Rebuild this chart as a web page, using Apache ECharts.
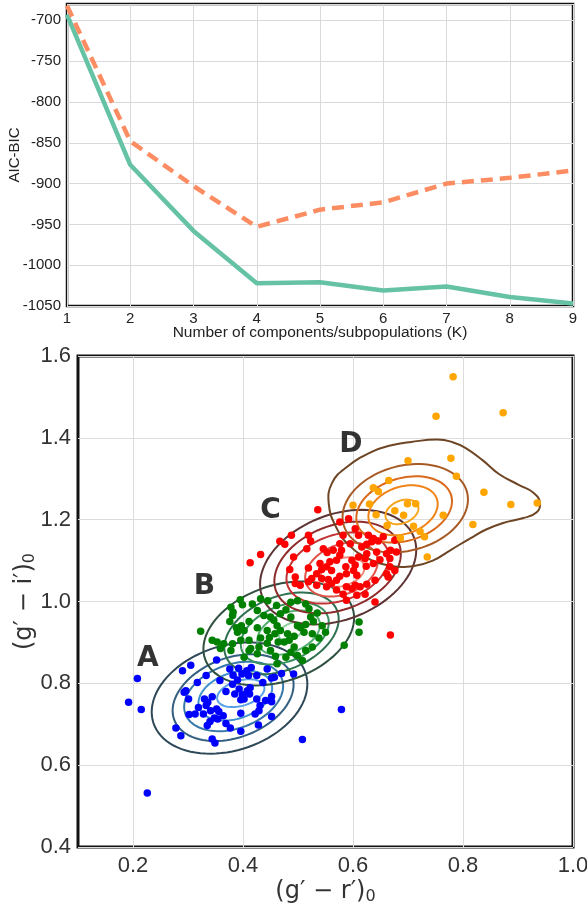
<!DOCTYPE html>
<html><head><meta charset="utf-8">
<script src="https://cdn.jsdelivr.net/npm/echarts@6/dist/echarts.min.js"></script>
<style>html,body{margin:0;padding:0;background:#fff}#c{width:587px;height:906px}</style>
</head><body><div id="c"></div>
<script>
// ---------- Top panel data ----------
const kValues = [1, 2, 3, 4, 5, 6, 7, 8, 9];
const aicValues = [-693, -877, -958, -1022, -1021, -1031, -1026, -1039, -1047];
const bicValues = [-682, -848, -903, -953, -932, -923, -900, -893, -884];
const topYTicks = [-1050, -1000, -950, -900, -850, -800, -750, -700];

// ---------- Bottom panel data: (g'-r')0, (g'-i')0 ----------
const popA = [[0.208,0.812],[0.192,0.754],[0.215,0.736],[0.508,0.663],[0.579,0.736],[0.226,0.532],
[0.305,0.844],[0.290,0.831],[0.352,0.857],[0.333,0.819],[0.317,0.802],[0.296,0.782],[0.293,0.778],[0.301,0.762],[0.330,0.762],[0.336,0.754],[0.344,0.767],[0.333,0.746],[0.319,0.741],[0.302,0.724],[0.341,0.733],[0.352,0.737],[0.356,0.731],[0.348,0.715],[0.340,0.707],[0.335,0.697],[0.354,0.713],[0.369,0.702],[0.377,0.691],[0.278,0.691],[0.287,0.672],[0.344,0.664],[0.349,0.654],[0.396,0.683],[0.428,0.698],[0.452,0.719],[0.396,0.727],[0.429,0.733],[0.452,0.768],[0.441,0.758],[0.425,0.762],[0.385,0.774],[0.369,0.780],[0.393,0.786],[0.408,0.782],[0.402,0.762],[0.396,0.760],[0.413,0.789],[0.381,0.798],[0.358,0.807],[0.382,0.820],[0.392,0.837],[0.407,0.831],[0.415,0.839],[0.410,0.819],[0.425,0.819],[0.436,0.802],[0.452,0.813],[0.457,0.815],[0.470,0.824],[0.492,0.823],[0.444,0.835],[0.376,0.835],[0.398,0.823],[0.390,0.808],[0.399,0.772],[0.412,0.774],[0.431,0.746],[0.452,0.755],[0.422,0.725],[0.364,0.721],[0.328,0.725],[0.313,0.725]];
const popB = [[0.323,0.927],[0.378,0.986],[0.382,0.974],[0.381,0.966],[0.376,0.951],[0.395,1.004],[0.399,0.992],[0.397,0.941],[0.395,0.931],[0.402,0.929],[0.390,0.925],[0.388,0.936],[0.411,0.951],[0.426,0.936],[0.444,0.929],[0.458,0.921],[0.448,0.912],[0.432,0.911],[0.411,0.905],[0.396,0.905],[0.381,0.897],[0.365,0.897],[0.353,0.901],[0.344,0.905],[0.359,0.885],[0.378,0.880],[0.411,0.880],[0.414,0.885],[0.429,0.889],[0.444,0.898],[0.464,0.901],[0.475,0.901],[0.484,0.905],[0.493,0.915],[0.481,0.921],[0.468,0.929],[0.462,0.941],[0.456,0.954],[0.450,0.962],[0.438,0.966],[0.426,0.978],[0.417,0.994],[0.432,1.007],[0.445,1.002],[0.461,0.990],[0.478,0.980],[0.487,0.998],[0.499,1.002],[0.514,0.994],[0.520,0.982],[0.535,0.972],[0.523,0.962],[0.514,0.944],[0.505,0.936],[0.499,0.941],[0.511,0.925],[0.526,0.921],[0.538,0.911],[0.550,0.925],[0.544,0.941],[0.528,0.951],[0.487,0.962],[0.468,0.970],[0.493,0.889],[0.487,0.876],[0.478,0.864],[0.459,0.866],[0.450,0.880],[0.499,0.868],[0.514,0.880],[0.526,0.889],[0.584,0.893],[0.611,0.950],[0.611,0.925],[0.426,0.872],[0.402,0.864],[0.462,0.848],[0.508,0.856]];
const popC = [[0.536,1.224],[0.413,1.095],[0.432,1.115],[0.467,1.147],[0.476,1.140],[0.488,1.162],[0.519,1.162],[0.523,1.148],[0.516,1.129],[0.492,1.109],[0.485,1.078],[0.495,1.060],[0.519,1.082],[0.540,1.093],[0.553,1.120],[0.564,1.125],[0.579,1.125],[0.576,1.113],[0.570,1.101],[0.558,1.097],[0.552,1.085],[0.561,1.076],[0.543,1.078],[0.543,1.056],[0.555,1.054],[0.570,1.052],[0.576,1.062],[0.588,1.068],[0.587,1.085],[0.601,1.076],[0.604,1.089],[0.598,1.101],[0.610,1.109],[0.625,1.117],[0.616,1.133],[0.625,1.140],[0.634,1.146],[0.637,1.154],[0.646,1.148],[0.643,1.121],[0.661,1.117],[0.668,1.125],[0.679,1.121],[0.676,1.150],[0.667,1.105],[0.649,1.102],[0.637,1.093],[0.624,1.086],[0.607,1.064],[0.604,1.040],[0.598,1.031],[0.613,1.036],[0.625,1.042],[0.640,1.052],[0.661,1.068],[0.676,1.076],[0.667,1.085],[0.561,1.044],[0.534,1.040],[0.519,1.048],[0.504,1.040],[0.495,1.044],[0.570,1.028],[0.582,1.018],[0.588,1.003],[0.607,1.015],[0.622,1.018],[0.640,0.999],[0.664,1.060],[0.592,1.202],[0.604,1.178],[0.576,1.194],[0.582,1.162],[0.610,1.162],[0.628,1.162],[0.655,1.158],[0.622,1.105],[0.595,1.141],[0.576,1.141],[0.546,1.129],[0.588,1.036],[0.552,1.036],[0.534,1.068],[0.525,1.056],[0.668,0.918]];
const popD = [[0.782,1.549],[0.751,1.453],[0.873,1.461],[0.700,1.344],[0.778,1.350],[0.788,1.306],[0.665,1.296],[0.637,1.278],[0.646,1.269],[0.838,1.267],[0.887,1.237],[0.935,1.241],[0.600,1.235],[0.630,1.238],[0.699,1.239],[0.714,1.239],[0.692,1.211],[0.764,1.211],[0.818,1.188],[0.662,1.186],[0.710,1.184],[0.722,1.171],[0.642,1.212],[0.686,1.155],[0.730,1.158],[0.735,1.109],[0.676,1.222]];

// contour levels: [centre x, centre y, half width, half height, tilt]
const contourA = [[0.3755,0.764,0.1415,0.136,0.25],[0.382,0.765,0.110,0.106,0.3],[0.383,0.768,0.090,0.085,0.3],[0.386,0.770,0.067,0.061,0.3],[0.396,0.776,0.043,0.034,0.35]];
const contourB = [[0.465,0.922,0.137,0.127,0.3],[0.470,0.922,0.104,0.100,0.35],[0.476,0.922,0.080,0.076,0.35],[0.483,0.924,0.057,0.054,0.35],[0.487,0.927,0.022,0.022,0.4]];
const contourC = [[0.573,1.084,0.142,0.140,0.3],[0.572,1.083,0.115,0.112,0.3],[0.572,1.082,0.093,0.087,0.3],[0.579,1.078,0.066,0.066,0.3],[0.581,1.072,0.040,0.036,0.3]];
const contourD = [[0.695,1.228,0.114,0.108,0.2],[0.693,1.225,0.087,0.081,0.25],[0.691,1.223,0.063,0.061,0.25],[0.689,1.219,0.030,0.030,0.3]];
const contourDOuter = [[0.556,1.238],[0.562,1.290],[0.590,1.330],[0.633,1.365],[0.670,1.382],[0.706,1.390],[0.753,1.396],[0.780,1.390],[0.805,1.375],[0.836,1.345],[0.866,1.311],[0.903,1.284],[0.928,1.266],[0.940,1.242],[0.934,1.218],[0.910,1.204],[0.873,1.192],[0.842,1.176],[0.814,1.155],[0.779,1.127],[0.745,1.100],[0.711,1.087],[0.669,1.087],[0.628,1.105],[0.594,1.136],[0.570,1.180]];
const groupLabels = [[0.227,0.861,'A'],[0.330,1.035,'B'],[0.450,1.221,'C'],[0.596,1.384,'D']];
const bottomXTicks = [0.2, 0.4, 0.6, 0.8, 1.0];

// ---------- styles ----------
const colA = ['#2f4858','#335f80','#3878a8','#3f90cc','#5aa0e8'];
const colB = ['#2f4f3f','#2e7050','#37905e','#55ad75','#8ccf9c'];
const colC = ['#5e3535','#8e2c2c','#c23434','#e0524a','#ef8a7a'];
const colD = ['#a85a25','#d9691b','#f0841a','#f8a51e'];
const colDOuter = '#6e4524';

function ellipseSeries(data, colors) {
  return {
    type: 'custom', xAxisIndex: 1, yAxisIndex: 1, silent: true,
    data: data,
    encode: {x: 0, y: 1},
    renderItem: function (params, api) {
      const cx = api.value(0), cy = api.value(1), rx = api.value(2), ry = api.value(3), rho = api.value(4);
      const s = Math.sqrt(1 - rho * rho);
      const pts = [];
      for (let i = 0; i < 90; i++) {
        const t = 2 * Math.PI * i / 90;
        pts.push(api.coord([cx + rx * Math.cos(t), cy + ry * (rho * Math.cos(t) + s * Math.sin(t))]));
      }
      return {type: 'polygon', shape: {points: pts}, style: {fill: 'none', stroke: colors[params.dataIndex], lineWidth: 2}};
    }
  };
}

const outerDSeries = {
  type: 'custom', xAxisIndex: 1, yAxisIndex: 1, silent: true,
  data: [contourDOuter[0]],
  encode: {x: 0, y: 1},
  renderItem: function (params, api) {
    const pts = contourDOuter.map(p => api.coord(p));
    return {type: 'polygon', shape: {points: pts, smooth: 0.45}, style: {fill: 'none', stroke: colDOuter, lineWidth: 2}};
  }
};

function scatter(data, color) {
  return {type: 'scatter', xAxisIndex: 1, yAxisIndex: 1, data: data, symbolSize: 7.5,
    itemStyle: {color: color, opacity: 1}, silent: true};
}

const tickFont = 'Liberation Sans, Arial, sans-serif';
const chart = echarts.init(document.getElementById('c'), null, {renderer: 'canvas'});
chart.setOption({
  animation: false,
  backgroundColor: '#fff',
  grid: [
    {left: 67, right: 14, top: 4, height: 302, show: true, borderColor: '#111', borderWidth: 2.5,
      backgroundColor: 'transparent', containLabel: false, outerBoundsMode: 'none'},
    {left: 78, right: 14, top: 356, height: 491, show: true, borderColor: '#111', borderWidth: 3,
      backgroundColor: 'transparent', containLabel: false, outerBoundsMode: 'none'}
  ],
  xAxis: [
    {gridIndex: 0, type: 'value', min: 1, max: 9, interval: 1,
      axisLine: {show: false}, axisTick: {show: false},
      axisLabel: {fontSize: 15, color: '#222', margin: 5, fontFamily: tickFont},
      splitLine: {show: true, lineStyle: {color: '#d9d9d9', width: 1}},
      name: 'Number of components/subpopulations (K)', nameLocation: 'middle', nameGap: 19, nameMoveOverlap: false,
      nameTextStyle: {fontSize: 15.5, color: '#222', fontFamily: tickFont}},
    {gridIndex: 1, type: 'value', min: 0.1, max: 1.0,
      axisLine: {show: false}, axisTick: {show: false, customValues: bottomXTicks},
      axisLabel: {fontSize: 22, color: '#333', margin: 8, fontFamily: tickFont, customValues: bottomXTicks,
        formatter: v => v.toFixed(1)},
      splitLine: {show: true, lineStyle: {color: '#dcdcdc', width: 1}},
      name: '(g′ − r′){s|0}', nameLocation: 'middle', nameGap: 32, nameMoveOverlap: false,
      nameTextStyle: {fontSize: 24, color: '#333', fontFamily: 'DejaVu Sans',
        rich: {s: {fontSize: 16, color: '#333', fontFamily: 'DejaVu Sans', padding: [10, 0, 0, 0]}}}}
  ],
  yAxis: [
    {gridIndex: 0, type: 'value', min: -1050, max: -680, interval: 50,
      axisLine: {show: false}, axisTick: {show: false},
      axisLabel: {fontSize: 15, color: '#222', margin: 6, fontFamily: tickFont, showMaxLabel: false,
        formatter: v => (topYTicks.indexOf(v) >= 0 ? String(v) : '')},
      splitLine: {show: true, lineStyle: {color: '#d9d9d9', width: 1}},
      name: 'AIC-BIC', nameLocation: 'middle', nameGap: 45, nameRotate: 90, nameMoveOverlap: false,
      nameTextStyle: {fontSize: 15, color: '#222', fontFamily: tickFont}},
    {gridIndex: 1, type: 'value', min: 0.4, max: 1.6, interval: 0.2,
      axisLine: {show: false}, axisTick: {show: false},
      axisLabel: {fontSize: 22, color: '#333', margin: 7, fontFamily: tickFont, formatter: v => v.toFixed(1)},
      splitLine: {show: true, lineStyle: {color: '#dcdcdc', width: 1}},
      name: '(g′ − i′){s|0}', nameLocation: 'middle', nameGap: 40, nameRotate: 90, nameMoveOverlap: false,
      nameTextStyle: {fontSize: 24, color: '#333', fontFamily: 'DejaVu Sans',
        rich: {s: {fontSize: 16, color: '#333', fontFamily: 'DejaVu Sans', padding: [10, 0, 0, 0]}}}}
  ],
  series: [
    {name: 'AIC', type: 'line', xAxisIndex: 0, yAxisIndex: 0, data: kValues.map((k, i) => [k, aicValues[i]]),
      symbol: 'none', lineStyle: {color: '#66c2a5', width: 4.5}, silent: true},
    {name: 'BIC', type: 'line', xAxisIndex: 0, yAxisIndex: 0, data: kValues.map((k, i) => [k, bicValues[i]]),
      symbol: 'none', lineStyle: {color: '#fc8d62', width: 4.5, type: [12, 7]}, silent: true},
    ellipseSeries(contourA, colA),
    ellipseSeries(contourB, colB),
    ellipseSeries(contourC, colC),
    outerDSeries,
    ellipseSeries(contourD, colD),
    scatter(popA, '#0000ff'),
    scatter(popB, '#008000'),
    scatter(popC, '#ff0000'),
    scatter(popD, '#ffa500'),
    {type: 'scatter', xAxisIndex: 1, yAxisIndex: 1, data: groupLabels, symbolSize: 0, silent: true,
      itemStyle: {color: 'rgba(0,0,0,0)'},
      label: {show: true, position: 'inside', formatter: p => p.value[2], fontSize: 28, fontWeight: 'bold',
        color: '#000', fontFamily: 'DejaVu Sans'}}
  ]
});
</script></body></html>
